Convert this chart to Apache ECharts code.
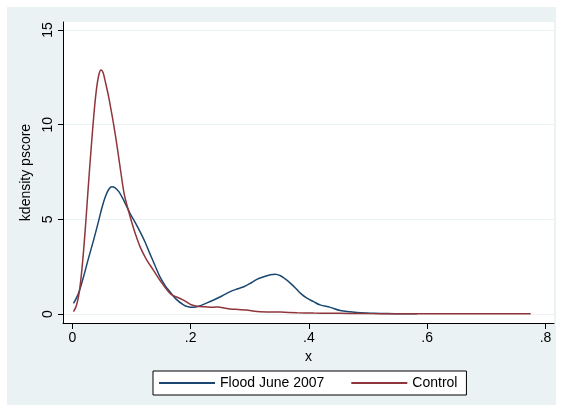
<!DOCTYPE html>
<html>
<head>
<meta charset="utf-8">
<script src="https://cdn.jsdelivr.net/npm/echarts@6/dist/echarts.min.js"></script>
<style>
html,body{margin:0;padding:0;background:#fff;}
#chart{width:563px;height:412px;}
</style>
</head>
<body>
<div id="chart"></div>
<script>
// Flood June 2007 (kdensity pscore)
var floodX = [0.002,0.01,0.019,0.027,0.036,0.044,0.05,0.056,0.061,0.0665,0.072,0.079,0.087,0.0975,0.106,0.1145,0.123,0.131,0.14,0.148,0.157,0.165,0.175,0.188,0.196,0.205,0.215,0.225,0.239,0.253,0.267,0.28,0.29,0.3,0.312,0.325,0.335,0.343,0.352,0.36,0.369,0.378,0.386,0.396,0.408,0.419,0.436,0.453,0.47,0.487,0.51,0.532,0.555,0.583];
var floodY = [0.56,1.05,1.97,2.9,3.9,4.85,5.6,6.2,6.55,6.72,6.68,6.45,6.0,5.32,4.85,4.35,3.8,3.2,2.55,1.97,1.5,1.18,0.8,0.48,0.38,0.35,0.42,0.55,0.74,0.95,1.18,1.33,1.44,1.6,1.83,1.98,2.07,2.1,2.02,1.85,1.62,1.35,1.09,0.85,0.65,0.48,0.35,0.18,0.12,0.07,0.04,0.02,0.01,0.01];
// Control
var controlX = [0.002,0.007,0.012,0.017,0.022,0.027,0.032,0.037,0.041,0.045,0.0485,0.052,0.056,0.061,0.066,0.0705,0.076,0.082,0.088,0.0947,0.1,0.107,0.1145,0.125,0.137,0.15,0.165,0.172,0.179,0.186,0.193,0.2,0.211,0.225,0.239,0.247,0.255,0.267,0.28,0.295,0.305,0.318,0.335,0.352,0.38,0.408,0.435,0.47,0.5,0.55,0.6,0.65,0.7,0.775];
var controlY = [0.12,0.45,1.2,2.6,4.5,6.7,8.8,10.7,11.9,12.65,12.89,12.75,12.25,11.55,10.7,9.9,8.8,7.5,6.3,5.49,4.9,4.2,3.56,2.9,2.32,1.7,1.09,0.95,0.86,0.76,0.64,0.5,0.41,0.38,0.36,0.37,0.33,0.27,0.24,0.21,0.16,0.12,0.11,0.1,0.07,0.05,0.04,0.03,0.02,0.015,0.01,0.01,0.01,0.01];
var seriesNames = ['Flood June 2007','Control'];
var xTicks = [0,0.2,0.4,0.6,0.8];
var yTicks = [0,5,10,15];

function pairs(xs, ys){ return xs.map(function(x,i){ return [x, ys[i]]; }); }

var FONT = '"Liberation Sans", Arial, Helvetica, sans-serif';
var chart = echarts.init(document.getElementById('chart'), null, {renderer:'canvas'});
chart.setOption({
  backgroundColor: '#ffffff',
  animation: false,
  textStyle: {fontFamily: FONT},
  graphic: [{
    type: 'rect', z: -10, silent: true,
    shape: {x: 7, y: 7, width: 549, height: 398},
    style: {fill: '#EAF2F3'}
  }],
  grid: {
    left: 63, right: 9, top: 22, bottom: 89,
    show: true, backgroundColor: '#ffffff', borderWidth: 0
  },
  xAxis: {
    type: 'value', min: -0.0157, max: 0.8144,
    name: 'x', nameLocation: 'middle', nameGap: 22,
    nameTextStyle: {fontSize: 14, color: '#000', fontFamily: FONT},
    axisLine: {show: true, onZero: false, lineStyle: {color: '#000', width: 1}},
    axisTick: {show: true, length: 6, customValues: xTicks, lineStyle: {color: '#000'}},
    axisLabel: {customValues: xTicks, fontSize: 14, color: '#000', margin: 8, fontFamily: FONT,
      formatter: function(v){ return v === 0 ? '0' : String(v).replace(/^0/, ''); }},
    splitLine: {show: false}
  },
  yAxis: {
    type: 'value', min: -0.4754, max: 15.4225,
    name: 'kdensity pscore', nameLocation: 'middle', nameGap: 19,
    nameTextStyle: {fontSize: 14, color: '#000', fontFamily: FONT},
    axisLine: {show: true, onZero: false, lineStyle: {color: '#000', width: 1}},
    axisTick: {show: true, length: 5, customValues: yTicks, lineStyle: {color: '#000'}},
    axisLabel: {customValues: yTicks, fontSize: 14, color: '#000', rotate: 90, margin: 8, fontFamily: FONT},
    splitLine: {show: true, lineStyle: {color: '#EAF2F3', width: 1}}
  },
  legend: {
    left: 153, top: 371,
    data: seriesNames,
    icon: 'rect', itemWidth: 56, itemHeight: 2, itemGap: 27,
    padding: [5, 9, 5, 6],
    backgroundColor: '#ffffff', borderColor: '#000', borderWidth: 1, borderRadius: 0,
    textStyle: {fontSize: 14, color: '#000', fontFamily: FONT, lineHeight: 14}
  },
  series: [{
    name: seriesNames[0], type: 'line', data: pairs(floodX, floodY),
    smooth: 0.35, showSymbol: false, symbol: 'none',
    color: '#1A476F', lineStyle: {color: '#1A476F', width: 1.5}
  },{
    name: seriesNames[1], type: 'line', data: pairs(controlX, controlY),
    smooth: 0.35, showSymbol: false, symbol: 'none',
    color: '#90353B', lineStyle: {color: '#90353B', width: 1.5}
  }]
});
</script>
</body>
</html>
